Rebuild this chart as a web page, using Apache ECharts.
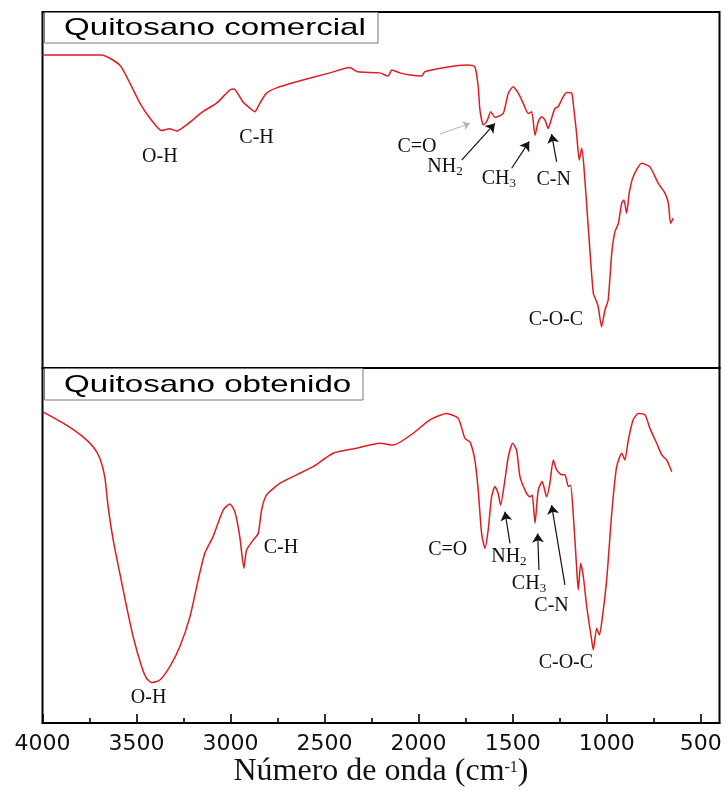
<!DOCTYPE html>
<html>
<head>
<meta charset="utf-8">
<title>FTIR quitosano</title>
<script src="https://cdn.jsdelivr.net/npm/echarts@6/dist/echarts.min.js"></script>
<style>
  html, body { margin: 0; padding: 0; background: #ffffff; }
  #chart { width: 725px; height: 791px; }
</style>
</head>
<body>
<div id="chart"></div>
<script>
// Espectros FTIR: transmitancia relativa (0-100 en cada panel) frente al número de onda (cm-1)

// Quitosano comercial
const comercialWn = [
  4000, 3686, 3589, 3536, 3482, 3429, 3367, 3325, 3286, 3234,
  3147, 3074, 3004, 2982, 2935, 2897, 2871, 2844, 2809, 2755,
  2649, 2472, 2367, 2323, 2206, 2163, 2142, 2099, 2046, 1984,
  1967, 1851, 1745, 1701, 1683, 1674, 1656, 1638, 1616, 1594,
  1550, 1523, 1497, 1470, 1444, 1417, 1399, 1381, 1364, 1346,
  1328, 1311, 1293, 1275, 1258, 1231, 1213, 1186, 1178, 1160,
  1146, 1133, 1121, 1098, 1071, 1053, 1045, 1027, 1009, 992,
  973, 956, 938, 920, 908, 894, 880, 859, 814, 770,
  726, 690, 672, 660, 646
];
const comercialT = [
  87.9, 87.9, 85.1, 80.1, 74.4, 70.2, 66.7, 67.2, 66.6, 68.3,
  72.0, 74.4, 78.1, 78.4, 74.8, 73.0, 72.0, 74.4, 77.2, 78.7,
  80.4, 82.9, 84.4, 83.2, 82.9, 82.0, 83.7, 82.9, 82.3, 82.0,
  83.2, 84.5, 85.1, 84.6, 79.0, 72.5, 68.3, 69.2, 72.0, 70.4,
  71.5, 77.2, 79.0, 77.2, 74.4, 71.5, 72.0, 65.4, 69.2, 70.6,
  69.7, 67.3, 70.1, 72.9, 73.4, 76.2, 77.4, 77.2, 74.4, 65.9,
  58.4, 61.7, 56.5, 39.7, 21.0, 18.6, 17.2, 11.6, 16.3, 19.1,
  32.2, 38.3, 40.6, 46.3, 47.2, 43.5, 49.1, 53.7, 57.5, 56.5,
  51.9, 49.1, 46.3, 40.6, 42.1
];

// Quitosano obtenido
const obtenidoWn = [
  4000, 3872, 3784, 3731, 3695, 3669, 3651, 3624, 3589, 3553,
  3518, 3473, 3447, 3420, 3376, 3323, 3270, 3216, 3172, 3137,
  3093, 3039, 3004, 2977, 2951, 2929, 2915, 2880, 2853, 2835,
  2809, 2738, 2649, 2561, 2454, 2330, 2206, 2135, 2029, 1940,
  1851, 1789, 1754, 1727, 1701, 1683, 1665, 1647, 1630, 1612,
  1594, 1577, 1564, 1541, 1523, 1500, 1479, 1461, 1426, 1408,
  1396, 1381, 1364, 1343, 1319, 1302, 1284, 1266, 1239, 1222,
  1204, 1192, 1178, 1160, 1151, 1138, 1124, 1106, 1080, 1071,
  1053, 1039, 1027, 1000, 973, 947, 920, 903, 885, 859,
  832, 796, 770, 734, 707, 681, 654
];
const obtenidoT = [
  87.7, 83.9, 80.6, 77.8, 74.6, 69.4, 60.9, 51.5, 42.2, 32.8,
  24.3, 15.9, 12.6, 11.4, 12.1, 15.9, 21.5, 29.9, 40.3, 47.8,
  52.5, 60.0, 61.7, 59.5, 52.5, 43.6, 48.7, 51.5, 53.4, 60.0,
  64.2, 67.5, 69.9, 72.2, 76.0, 77.4, 78.8, 78.3, 81.6, 85.4,
  87.2, 85.8, 80.2, 79.2, 74.1, 65.6, 53.4, 49.2, 54.4, 63.7,
  66.6, 64.7, 61.4, 68.5, 75.0, 78.8, 76.9, 69.4, 64.7, 63.7,
  64.2, 56.3, 65.6, 68.0, 63.7, 67.5, 74.1, 71.3, 69.9, 69.9,
  66.6, 67.0, 59.1, 44.0, 37.5, 45.0, 41.2, 32.8, 23.4, 20.6,
  26.7, 24.8, 28.1, 40.3, 59.1, 72.2, 76.0, 74.1, 79.7, 85.4,
  87.2, 86.8, 83.0, 78.8, 75.5, 74.1, 70.8
];

// Eje de número de onda
const wnMin = 400;
const wnMax = 4000;
const majorTicks = [4000, 3500, 3000, 2500, 2000, 1500, 1000, 500];
const minorTicks = [3750, 3250, 2750, 2250, 1750, 1250, 750];

// Asignaciones de bandas: [texto, número de onda, transmitancia]
const comercialBands = [
  ['O-H', 3376, 59.3],
  ['C-H', 2862, 64.6],
  ['C=O', 2009, 62.1],
  ['{t|NH}{sub|2}', 1860, 56.5],
  ['{t|CH}{sub|3}', 1573, 53.1],
  ['C-N', 1282, 52.8],
  ['C-O-C', 1270, 13.5]
];
const obtenidoBands = [
  ['O-H', 3436, 7.2],
  ['C-H', 2732, 49.3],
  ['C=O', 1845, 48.7],
  ['{t|NH}{sub|2}', 1520, 46.8],
  ['{t|CH}{sub|3}', 1413, 39.2],
  ['C-N', 1293, 33.0],
  ['C-O-C', 1217, 16.9]
];

// Flechas: [desde wn, desde T, hasta wn, hasta T, tenue]
const comercialArrows = [
  [1887, 65.7, 1727, 68.7, true],
  [1771, 58.4, 1594, 68.7, false],
  [1505, 56.1, 1412, 63.6, false],
  [1266, 57.9, 1293, 65.7, false]
];
const obtenidoArrows = [
  [1514, 50.6, 1541, 59.5, false],
  [1360, 43.1, 1367, 53.4, false],
  [1222, 38.9, 1293, 61.4, false]
];

const RED = '#dc1e24';
const SERIF = '"Liberation Serif", "Times New Roman", serif';
const SANS = '"Liberation Sans", Arial, sans-serif';

const bandRich = {
  t: { fontFamily: SERIF, fontSize: 20, color: '#111' },
  sub: { fontFamily: SERIF, fontSize: 13, color: '#111', padding: [9, 0, 0, 0] }
};

function toPoints(xs, ys) {
  return xs.map((x, i) => [x, ys[i]]);
}

function bandMarks(bands) {
  return {
    symbol: 'circle',
    symbolSize: 1,
    silent: true,
    itemStyle: { color: 'rgba(0,0,0,0)' },
    label: {
      show: true,
      position: 'inside',
      color: '#111',
      fontFamily: SERIF,
      fontSize: 20,
      rich: bandRich
    },
    data: bands.map(b => ({ coord: [b[1], b[2]], label: { formatter: b[0] } }))
  };
}

function arrowMarks(arrows) {
  return {
    silent: true,
    symbol: ['none', 'arrow'],
    symbolSize: 9,
    label: { show: false },
    emphasis: { disabled: true },
    lineStyle: { color: '#111', width: 1.2, type: 'solid' },
    data: arrows.map(a => [
      {
        coord: [a[0], a[1]],
        lineStyle: a[4] ? { color: '#b5b5b5', width: 1 } : { color: '#111', width: 1.2 },
        symbolSize: a[4] ? 7 : 9
      },
      { coord: [a[2], a[3]], symbolSize: a[4] ? 7 : 9 }
    ])
  };
}

const chart = echarts.init(document.getElementById('chart'), null, { renderer: 'canvas' });

chart.setOption({
  animation: false,
  backgroundColor: '#ffffff',
  grid: [
    { left: 42.5, width: 677, top: 12, height: 356, show: true, borderColor: '#000', borderWidth: 2, backgroundColor: 'transparent' },
    { left: 42.5, width: 677, top: 368, height: 355, show: true, borderColor: '#000', borderWidth: 2, backgroundColor: 'transparent' }
  ],
  xAxis: [
    { type: 'value', gridIndex: 0, min: wnMin, max: wnMax, inverse: true, show: false },
    {
      type: 'value', gridIndex: 1, min: wnMin, max: wnMax, inverse: true, position: 'bottom',
      axisLine: { show: true, lineStyle: { color: '#000', width: 2 } },
      axisTick: { show: true, inside: true, length: 9, customValues: majorTicks, lineStyle: { color: '#000', width: 1.6 } },
      axisLabel: {
        show: true, customValues: majorTicks, margin: 10, color: '#111',
        fontFamily: '"DejaVu Sans", sans-serif', fontSize: 22,
        formatter: v => String(v)
      },
      splitLine: { show: false },
      name: '{a|Número de onda (cm}{s|-1}{a|)}',
      nameLocation: 'middle',
      nameGap: 30,
      nameTextStyle: {
        rich: {
          a: { fontFamily: SERIF, fontSize: 32, color: '#111' },
          s: { fontFamily: SERIF, fontSize: 16, color: '#111', padding: [0, 0, 8, 0] }
        }
      }
    },
    {
      type: 'value', gridIndex: 1, min: wnMin, max: wnMax, inverse: true, position: 'bottom', offset: 0,
      axisLine: { show: false },
      axisTick: { show: true, inside: true, length: 5, customValues: minorTicks, lineStyle: { color: '#000', width: 1.6 } },
      axisLabel: { show: false },
      splitLine: { show: false }
    }
  ],
  yAxis: [
    { type: 'value', gridIndex: 0, min: 0, max: 100, show: false },
    { type: 'value', gridIndex: 1, min: 0, max: 100, show: false }
  ],
  series: [
    {
      name: 'Quitosano comercial',
      type: 'line',
      xAxisIndex: 0,
      yAxisIndex: 0,
      data: toPoints(comercialWn, comercialT),
      showSymbol: false,
      smooth: 0.2,
      lineStyle: { color: RED, width: 1.5 },
      itemStyle: { color: RED },
      markPoint: bandMarks(comercialBands),
      markLine: arrowMarks(comercialArrows)
    },
    {
      name: 'Quitosano obtenido',
      type: 'line',
      xAxisIndex: 1,
      yAxisIndex: 1,
      data: toPoints(obtenidoWn, obtenidoT),
      showSymbol: false,
      smooth: 0.2,
      lineStyle: { color: RED, width: 1.5 },
      itemStyle: { color: RED },
      markPoint: bandMarks(obtenidoBands),
      markLine: arrowMarks(obtenidoArrows)
    }
  ],
  graphic: [
    { type: 'rect', z: 100, shape: { x: 44.5, y: 12.5, width: 333.5, height: 30.5 }, style: { fill: '#fff', stroke: '#777', lineWidth: 1 } },
    { type: 'text', z: 101, x: 64, y: 28, scaleX: 1.38, style: { text: 'Quitosano comercial', fontFamily: SANS, fontSize: 24, fill: '#000', textVerticalAlign: 'middle', verticalAlign: 'middle' } },
    { type: 'rect', z: 100, shape: { x: 44.5, y: 368.5, width: 318.5, height: 31.5 }, style: { fill: '#fff', stroke: '#777', lineWidth: 1 } },
    { type: 'text', z: 101, x: 64, y: 385, scaleX: 1.38, style: { text: 'Quitosano obtenido', fontFamily: SANS, fontSize: 24, fill: '#000', textVerticalAlign: 'middle', verticalAlign: 'middle' } }
  ]
});
</script>
</body>
</html>
